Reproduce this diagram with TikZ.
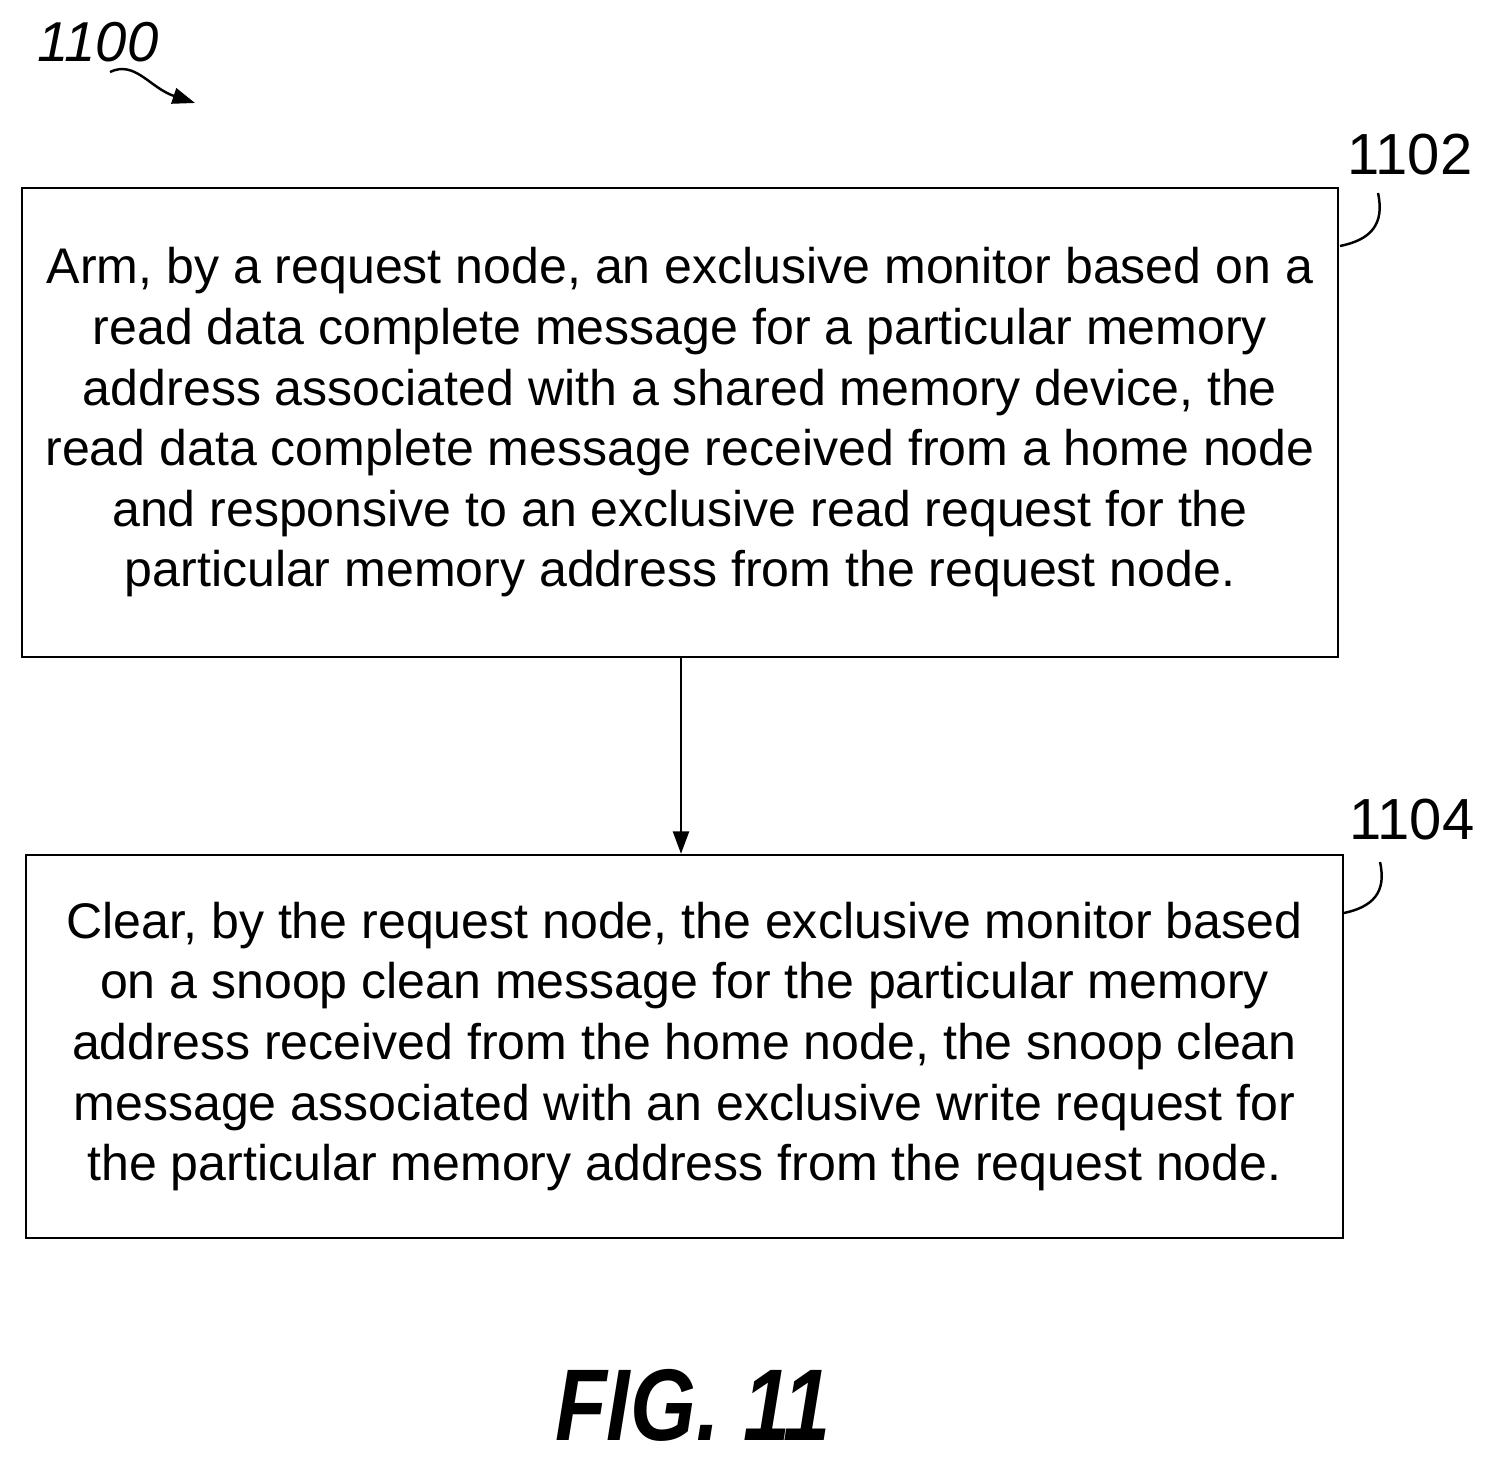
\documentclass[tikz,border=0pt]{standalone}
\usepackage{fontspec}
\setmainfont{Liberation Sans}
\usetikzlibrary{arrows.meta}

\begin{document}
\begin{tikzpicture}[x=0.02cm, y=-0.02cm, every node/.style={font=\fontsize{28.5}{34.5}\selectfont}]
  % Styles
  \tikzset{
    flowbox/.style = {draw, line width=1.4pt, shape=rectangle, align=center, inner sep=0pt},
    link/.style = {-{Triangle[length=4.5mm, width=3.2mm]}, line width=1.4pt},
    squiggle/.style = {line width=1.4pt},
    refnum/.style = {font=\fontsize{33}{38}\selectfont}
  }
  \useasboundingbox (0,0) rectangle (1494,1459);

  % Steps
  \node[flowbox, minimum width=26.32cm, minimum height=9.38cm] (Arm) at (680,422.5)
    {Arm, by a request node, an exclusive monitor based on a\\
     read data complete message for a particular memory\\
     address associated with a shared memory device, the\\
     read data complete message received from a home node\\
     and responsive to an exclusive read request for the\\
     particular memory address from the request node.};
  \node[flowbox, minimum width=26.34cm, minimum height=7.66cm] (Clear) at (684.5,1046.5)
    {Clear, by the request node, the exclusive monitor based\\
     on a snoop clean message for the particular memory\\
     address received from the home node, the snoop clean\\
     message associated with an exclusive write request for\\
     the particular memory address from the request node.};

  % Labels
  \node[refnum] (ArmNum) at (1410,155) {1102};
  \node[refnum] (ClearNum) at (1412,820) {1104};
  \node[refnum, font=\fontsize{32}{38}\selectfont\itshape] (FlowNum) at (98,42) {1100};
  \node[font=\fontsize{58}{64}\selectfont\bfseries\itshape, xscale=0.83, transform shape] (Fig) at (693,1405) {FIG. 11};

  % Connections
  \draw[link] (Arm.south -| 681,0) -- (Clear.north -| 681,0);
  \draw[squiggle] (1378,193) .. controls (1385,225) and (1370,240) .. (1340,246);
  \draw[squiggle] (1380,862) .. controls (1387,893) and (1372,907) .. (1344,913);
  \draw[squiggle, -{Triangle[length=4.5mm, width=3.2mm]}] (110,72) .. controls (135,60) and (150,88) .. (195,103);
\end{tikzpicture}
\end{document}
